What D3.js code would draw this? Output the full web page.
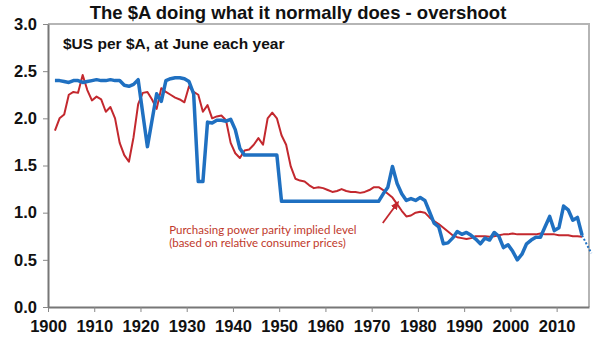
<!DOCTYPE html>
<html>
<head>
<meta charset="utf-8">
<script src="https://cdn.jsdelivr.net/npm/d3@7"></script>
<style>
  body { margin: 0; background: #fff; }
  svg { display: block; }
  .tick text { font-family: "Liberation Sans", Arial, sans-serif; font-weight: bold; fill: #111; }
</style>
</head>
<body>
<script>
// $US per $A, June of each year
const audYears = d3.range(1901, 2016)
const audValues = [
  2.40, 2.40, 2.39, 2.38, 2.40, 2.40, 2.38, 2.39, 2.40, 2.41,
  2.40, 2.40, 2.41, 2.40, 2.40, 2.35, 2.34, 2.36, 2.41, 2.05,
  1.70, 1.98, 2.26, 2.18, 2.40, 2.42, 2.43, 2.43, 2.42, 2.39,
  2.26, 1.33, 1.33, 1.96, 1.95, 1.98, 1.98, 1.97, 1.99, 1.88,
  1.68, 1.61, 1.61, 1.61, 1.61, 1.61, 1.61, 1.61, 1.61, 1.12,
  1.12, 1.12, 1.12, 1.12, 1.12, 1.12, 1.12, 1.12, 1.12, 1.12,
  1.12, 1.12, 1.12, 1.12, 1.12, 1.12, 1.12, 1.12, 1.12, 1.12,
  1.12, 1.20, 1.27, 1.49, 1.31, 1.20, 1.13, 1.15, 1.13, 1.16,
  1.13, 1.01, 0.89, 0.85, 0.67, 0.68, 0.73, 0.80, 0.77, 0.79,
  0.76, 0.72, 0.67, 0.73, 0.71, 0.79, 0.75, 0.63, 0.66, 0.59,
  0.50, 0.56, 0.67, 0.71, 0.74, 0.74, 0.85, 0.96, 0.81, 0.84,
  1.07, 1.03, 0.92, 0.95, 0.76
]

// short projection shown dotted
const projYears = [2015, 2017]
const projValues = [0.76, 0.57]

// purchasing power parity implied level
const pppYears = d3.range(1901, 2016)
const pppValues = [
  1.87, 2.00, 2.04, 2.25, 2.28, 2.27, 2.46, 2.30, 2.19, 2.23,
  2.20, 2.07, 2.12, 2.00, 1.74, 1.61, 1.54, 1.80, 2.15, 2.27,
  2.28, 2.20, 2.10, 2.32, 2.28, 2.25, 2.22, 2.20, 2.17, 2.34,
  2.28, 2.25, 2.07, 2.14, 2.00, 2.02, 2.03, 1.98, 1.74, 1.63,
  1.58, 1.66, 1.67, 1.72, 1.79, 1.72, 2.00, 2.06, 2.00, 1.82,
  1.72, 1.49, 1.36, 1.34, 1.33, 1.29, 1.26, 1.27, 1.26, 1.24,
  1.22, 1.23, 1.25, 1.23, 1.22, 1.22, 1.21, 1.22, 1.24, 1.27,
  1.27, 1.24, 1.20, 1.16, 1.09, 1.02, 0.96, 0.97, 1.00, 1.01,
  1.00, 0.95, 0.91, 0.88, 0.84, 0.80, 0.76, 0.74, 0.73, 0.72,
  0.73, 0.75, 0.75, 0.75, 0.745, 0.75, 0.76, 0.77, 0.77, 0.78,
  0.77, 0.77, 0.77, 0.77, 0.77, 0.78, 0.77, 0.77, 0.77, 0.76,
  0.76, 0.76, 0.75, 0.75, 0.745
]

const xTicks = d3.range(1900, 2011, 10)
const yTicks = [0, 0.5, 1, 1.5, 2, 2.5, 3]

const title = 'The $A doing what it normally does - overshoot'
const subtitle = '$US per $A, at June each year'
const noteLines = ['Purchasing power parity implied level', '(based on relative consumer prices)']

// -----------------------------------------------------------------------------

var width = 600
var height = 347
var margin = {top: 24, right: 11, bottom: 40, left: 48}

var svg = d3.select('body').append('svg')
    .attr('width', width)
    .attr('height', height)

var x = d3.scaleLinear()
    .domain([1900, 2017])
    .range([margin.left, width - margin.right])

var y = d3.scaleLinear()
    .domain([0, 3])
    .range([height - margin.bottom, margin.top])

// frame: light top/right, darker axes
svg.append('path')
    .attr('d', 'M' + x(1900) + ',' + y(3) + 'H' + x(2017) + 'V' + y(0))
    .attr('fill', 'none')
    .attr('stroke', '#b5b5b5')
    .attr('stroke-width', 2)

var xAxis = svg.append('g')
    .attr('transform', 'translate(0,' + y(0) + ')')
    .call(d3.axisBottom(x).tickValues(xTicks).tickFormat(d3.format('d')).tickSize(5).tickSizeOuter(0))
xAxis.select('.domain').attr('stroke', '#777').attr('stroke-width', 2)
xAxis.selectAll('.tick line').attr('stroke', '#888')
xAxis.selectAll('.tick text').attr('font-size', 16.5).attr('dy', '1.05em')

var yAxis = svg.append('g')
    .attr('transform', 'translate(' + x(1900) + ',0)')
    .call(d3.axisLeft(y).tickValues(yTicks).tickFormat(d3.format('.1f')).tickSize(5).tickSizeOuter(0))
yAxis.select('.domain').attr('stroke', '#777').attr('stroke-width', 2)
yAxis.selectAll('.tick line').attr('stroke', '#888')
yAxis.selectAll('.tick text').attr('font-size', 16.5).attr('x', -11)

// June readings sit half way through the year
const line = d3.line()
    .x(d => x(d[0] + 0.5))
    .y(d => y(d[1]))

svg.append('path')
    .datum(d3.zip(pppYears, pppValues))
    .attr('d', line)
    .attr('fill', 'none')
    .attr('stroke', '#c3282e')
    .attr('stroke-width', 2)
    .attr('stroke-linejoin', 'round')

svg.append('path')
    .datum(d3.zip(audYears, audValues))
    .attr('d', line)
    .attr('fill', 'none')
    .attr('stroke', '#1f70c1')
    .attr('stroke-width', 3.5)
    .attr('stroke-linejoin', 'round')

svg.append('path')
    .datum(d3.zip(projYears, projValues))
    .attr('d', line)
    .attr('fill', 'none')
    .attr('stroke', '#1f70c1')
    .attr('stroke-width', 2)
    .attr('stroke-dasharray', '2,2')

// annotation arrow
svg.append('defs').append('marker')
    .attr('id', 'head')
    .attr('viewBox', '0 0 10 10')
    .attr('refX', 8)
    .attr('refY', 5)
    .attr('markerWidth', 5)
    .attr('markerHeight', 5)
    .attr('orient', 'auto')
  .append('path')
    .attr('d', 'M0,1 L10,5 L0,9 z')
    .attr('fill', '#c3282e')

svg.append('line')
    .attr('x1', x(1972.4)).attr('y1', y(0.89))
    .attr('x2', x(1975.7)).attr('y2', y(1.11))
    .attr('stroke', '#c3282e')
    .attr('stroke-width', 1.8)
    .attr('marker-end', 'url(#head)')

svg.append('text')
    .attr('x', x(1926.2))
    .attr('y', y(0.77))
    .attr('font-family', 'Lato, "Noto Sans", sans-serif')
    .attr('font-size', 11.5)
    .attr('fill', '#c0392b')
  .selectAll('tspan')
  .data(noteLines).enter()
  .append('tspan')
    .attr('x', x(1926.2))
    .attr('dy', (d, i) => i ? 13 : 0)
    .text(d => d)

// titles
svg.append('text')
    .attr('x', 298)
    .attr('y', 19)
    .attr('text-anchor', 'middle')
    .attr('font-family', '"Liberation Sans", Arial, sans-serif')
    .attr('font-weight', 'bold')
    .attr('font-size', 18.5)
    .attr('fill', '#111')
    .text(title)

svg.append('text')
    .attr('x', 63)
    .attr('y', 49)
    .attr('font-family', '"Liberation Sans", Arial, sans-serif')
    .attr('font-weight', 'bold')
    .attr('font-size', 15.5)
    .attr('fill', '#111')
    .text(subtitle)
</script>
</body>
</html>
